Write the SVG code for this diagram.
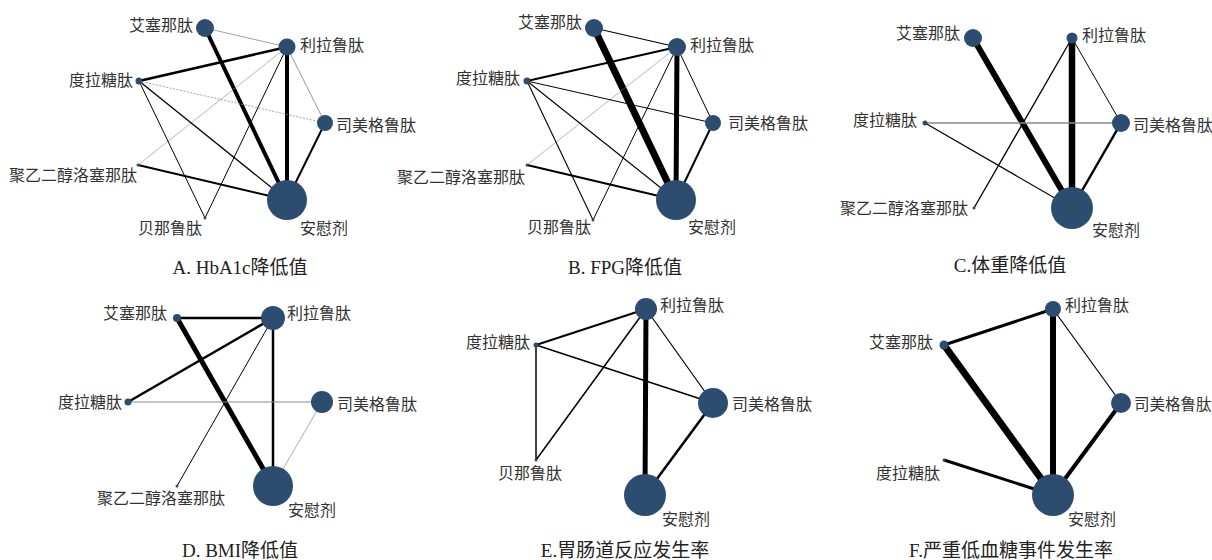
<svg xmlns="http://www.w3.org/2000/svg" width="1212" height="560" viewBox="0 0 1212 560">
<style>
.bg{fill:#ffffff}
.n{fill:#2c4c70}
.e{stroke:#000;fill:none;stroke-linecap:butt}
.g{stroke:#8a8a8a;fill:none}
.l{font-family:"Liberation Serif","Noto Sans CJK SC",serif;font-size:16px;fill:#333}
.c{font-family:"Liberation Serif","Noto Sans CJK SC",serif;font-size:19px;fill:#222;text-anchor:middle}
.r{text-anchor:end}
</style>
<rect class="bg" width="1212" height="560"/>

<!-- Panel A -->
<g id="edges-A">
<line class="g" x1="205" y1="28" x2="287" y2="47" stroke-width="0.8"/>
<line class="e" x1="205" y1="28" x2="287" y2="200" stroke-width="4"/>
<line class="e" x1="287" y1="47" x2="287" y2="200" stroke-width="4"/>
<line class="e" x1="287" y1="47" x2="139" y2="81" stroke-width="2.5"/>
<line class="g" x1="287" y1="47" x2="325" y2="123" stroke-width="0.9"/>
<line class="g" x1="287" y1="47" x2="138" y2="165" stroke-width="0.6"/>
<line class="e" x1="287" y1="47" x2="205" y2="218" stroke-width="1"/>
<line class="g" x1="139" y1="81" x2="325" y2="123" stroke-width="0.8" stroke-dasharray="2,1.5"/>
<line class="e" x1="139" y1="81" x2="287" y2="200" stroke-width="1.3"/>
<line class="e" x1="139" y1="81" x2="205" y2="218" stroke-width="1"/>
<line class="e" x1="138" y1="165" x2="287" y2="200" stroke-width="2"/>
<line class="e" x1="325" y1="123" x2="287" y2="200" stroke-width="2"/>
</g>
<g id="A-aisainatai"><circle class="n" cx="205" cy="28" r="9"/><text class="l r" x="193" y="31">艾塞那肽</text></g>
<g id="A-lilalutai"><circle class="n" cx="287" cy="47" r="8.5"/><text class="l" x="300" y="51">利拉鲁肽</text></g>
<g id="A-dulatangtai"><circle class="n" cx="139" cy="81" r="3.5"/><text class="l r" x="133" y="86">度拉糖肽</text></g>
<g id="A-simeigelutai"><circle class="n" cx="325" cy="123" r="8"/><text class="l" x="336" y="131">司美格鲁肽</text></g>
<g id="A-peg"><circle class="n" cx="138" cy="165" r="1.5"/><text class="l r" x="137" y="181">聚乙二醇洛塞那肽</text></g>
<g id="A-beinalutai"><circle class="n" cx="205" cy="218" r="1.5"/><text class="l" x="138" y="234">贝那鲁肽</text></g>
<g id="A-placebo"><circle class="n" cx="287" cy="200" r="20"/><text class="l" x="300" y="234">安慰剂</text></g>
<text id="A-caption" class="c" x="240" y="274">A. HbA1c降低值</text>

<!-- Panel B -->
<g id="edges-B">
<line class="e" x1="594" y1="28" x2="677" y2="47" stroke-width="1.2"/>
<line class="e" x1="594" y1="28" x2="676" y2="200" stroke-width="7"/>
<line class="e" x1="677" y1="47" x2="676" y2="200" stroke-width="5"/>
<line class="e" x1="677" y1="47" x2="527" y2="81" stroke-width="2"/>
<line class="e" x1="677" y1="47" x2="713" y2="123" stroke-width="1"/>
<line class="g" x1="677" y1="47" x2="527" y2="165" stroke-width="0.6"/>
<line class="e" x1="677" y1="47" x2="593" y2="220" stroke-width="1"/>
<line class="e" x1="527" y1="81" x2="713" y2="123" stroke-width="1"/>
<line class="e" x1="527" y1="81" x2="676" y2="200" stroke-width="1.1"/>
<line class="e" x1="527" y1="81" x2="593" y2="220" stroke-width="1.1"/>
<line class="e" x1="527" y1="165" x2="676" y2="200" stroke-width="2"/>
<line class="e" x1="713" y1="123" x2="676" y2="200" stroke-width="2"/>
</g>
<g id="B-aisainatai"><circle class="n" cx="594" cy="28" r="9"/><text class="l r" x="582" y="28">艾塞那肽</text></g>
<g id="B-lilalutai"><circle class="n" cx="677" cy="47" r="9"/><text class="l" x="690" y="51">利拉鲁肽</text></g>
<g id="B-dulatangtai"><circle class="n" cx="527" cy="81" r="3.5"/><text class="l r" x="520" y="84">度拉糖肽</text></g>
<g id="B-simeigelutai"><circle class="n" cx="713" cy="123" r="8"/><text class="l" x="728" y="129">司美格鲁肽</text></g>
<g id="B-peg"><circle class="n" cx="527" cy="165" r="1.5"/><text class="l r" x="525" y="183">聚乙二醇洛塞那肽</text></g>
<g id="B-beinalutai"><circle class="n" cx="593" cy="220" r="1.5"/><text class="l" x="527" y="233">贝那鲁肽</text></g>
<g id="B-placebo"><circle class="n" cx="676" cy="200" r="20"/><text class="l" x="688" y="233">安慰剂</text></g>
<text id="B-caption" class="c" x="625" y="274">B. FPG降低值</text>

<!-- Panel C -->
<g id="edges-C">
<line class="e" x1="973" y1="38" x2="1072" y2="208" stroke-width="6"/>
<line class="e" x1="1072" y1="38" x2="1072" y2="208" stroke-width="6.5"/>
<line class="e" x1="1072" y1="38" x2="1121" y2="123" stroke-width="1"/>
<line class="e" x1="1072" y1="38" x2="974" y2="208" stroke-width="1.3"/>
<line class="g" x1="925" y1="123" x2="1121" y2="123" stroke-width="1.3"/>
<line class="e" x1="925" y1="123" x2="1072" y2="208" stroke-width="1.2"/>
<line class="e" x1="1121" y1="123" x2="1072" y2="208" stroke-width="2.5"/>
</g>
<g id="C-aisainatai"><circle class="n" cx="973" cy="38" r="9"/><text class="l r" x="960" y="39">艾塞那肽</text></g>
<g id="C-lilalutai"><circle class="n" cx="1072" cy="38" r="5.5"/><text class="l" x="1082" y="41">利拉鲁肽</text></g>
<g id="C-dulatangtai"><circle class="n" cx="925" cy="123" r="2.5"/><text class="l r" x="917" y="126">度拉糖肽</text></g>
<g id="C-simeigelutai"><circle class="n" cx="1121" cy="123" r="9"/><text class="l" x="1133" y="131">司美格鲁肽</text></g>
<g id="C-peg"><circle class="n" cx="974" cy="208" r="1.5"/><text class="l r" x="968" y="214">聚乙二醇洛塞那肽</text></g>
<g id="C-placebo"><circle class="n" cx="1072" cy="208" r="21"/><text class="l" x="1092" y="236">安慰剂</text></g>
<text id="C-caption" class="c" x="1010" y="272">C.体重降低值</text>

<!-- Panel D -->
<g id="edges-D">
<line class="e" x1="177" y1="318" x2="273" y2="318" stroke-width="2.5"/>
<line class="e" x1="177" y1="318" x2="273" y2="486" stroke-width="5"/>
<line class="e" x1="273" y1="318" x2="128" y2="402" stroke-width="2.5"/>
<line class="e" x1="273" y1="318" x2="273" y2="486" stroke-width="2.5"/>
<line class="e" x1="273" y1="318" x2="177" y2="486" stroke-width="1"/>
<line class="g" x1="128" y1="402" x2="322" y2="402" stroke-width="1" stroke="#aaa"/>
<line class="g" x1="322" y1="402" x2="273" y2="486" stroke-width="0.7"/>
</g>
<g id="D-aisainatai"><circle class="n" cx="177" cy="318" r="4"/><text class="l r" x="167" y="319">艾塞那肽</text></g>
<g id="D-lilalutai"><circle class="n" cx="273" cy="318" r="12"/><text class="l" x="287" y="319">利拉鲁肽</text></g>
<g id="D-dulatangtai"><circle class="n" cx="128" cy="402" r="3.5"/><text class="l r" x="122" y="408">度拉糖肽</text></g>
<g id="D-simeigelutai"><circle class="n" cx="322" cy="402" r="11"/><text class="l" x="337" y="410">司美格鲁肽</text></g>
<g id="D-peg"><circle class="n" cx="177" cy="486" r="1.5"/><text class="l" x="97" y="504">聚乙二醇洛塞那肽</text></g>
<g id="D-placebo"><circle class="n" cx="273" cy="486" r="20"/><text class="l" x="288" y="516">安慰剂</text></g>
<text id="D-caption" class="c" x="240" y="557">D. BMI降低值</text>

<!-- Panel E -->
<g id="edges-E">
<line class="e" x1="646" y1="309" x2="536" y2="345" stroke-width="2"/>
<line class="e" x1="646" y1="309" x2="536" y2="460" stroke-width="1.5"/>
<line class="e" x1="646" y1="309" x2="645" y2="495" stroke-width="5"/>
<line class="e" x1="646" y1="309" x2="713" y2="403" stroke-width="1.2"/>
<line class="e" x1="536" y1="345" x2="713" y2="403" stroke-width="1.5"/>
<line class="e" x1="536" y1="345" x2="536" y2="460" stroke-width="1.5"/>
<line class="e" x1="713" y1="403" x2="645" y2="495" stroke-width="2.5"/>
</g>
<g id="E-lilalutai"><circle class="n" cx="646" cy="309" r="11"/><text class="l" x="660" y="311">利拉鲁肽</text></g>
<g id="E-dulatangtai"><circle class="n" cx="536" cy="345" r="2.5"/><text class="l r" x="530" y="348">度拉糖肽</text></g>
<g id="E-simeigelutai"><circle class="n" cx="713" cy="403" r="15"/><text class="l" x="732" y="410">司美格鲁肽</text></g>
<g id="E-beinalutai"><circle class="n" cx="536" cy="460" r="1.5"/><text class="l" x="498" y="479">贝那鲁肽</text></g>
<g id="E-placebo"><circle class="n" cx="645" cy="495" r="21"/><text class="l" x="662" y="525">安慰剂</text></g>
<text id="E-caption" class="c" x="625" y="557">E.胃肠道反应发生率</text>

<!-- Panel F -->
<g id="edges-F">
<line class="e" x1="1053" y1="309" x2="944" y2="345" stroke-width="3"/>
<line class="e" x1="944" y1="345" x2="1053" y2="495" stroke-width="7"/>
<line class="e" x1="1053" y1="309" x2="1053" y2="495" stroke-width="6"/>
<line class="e" x1="1053" y1="309" x2="1121" y2="403" stroke-width="1.2"/>
<line class="e" x1="1121" y1="403" x2="1053" y2="495" stroke-width="4"/>
<line class="e" x1="944" y1="460" x2="1053" y2="495" stroke-width="3"/>
</g>
<g id="F-lilalutai"><circle class="n" cx="1053" cy="309" r="8"/><text class="l" x="1065" y="311">利拉鲁肽</text></g>
<g id="F-aisainatai"><circle class="n" cx="944" cy="345" r="4.5"/><text class="l r" x="933" y="348">艾塞那肽</text></g>
<g id="F-simeigelutai"><circle class="n" cx="1121" cy="403" r="10"/><text class="l" x="1134" y="410" style="font-size:15.5px">司美格鲁肽</text></g>
<g id="F-dulatangtai"><circle class="n" cx="944" cy="460" r="1.5"/><text class="l r" x="940" y="479">度拉糖肽</text></g>
<g id="F-placebo"><circle class="n" cx="1053" cy="495" r="21"/><text class="l" x="1068" y="525">安慰剂</text></g>
<text id="F-caption" class="c" x="1011" y="557">F.严重低血糖事件发生率</text>
</svg>
